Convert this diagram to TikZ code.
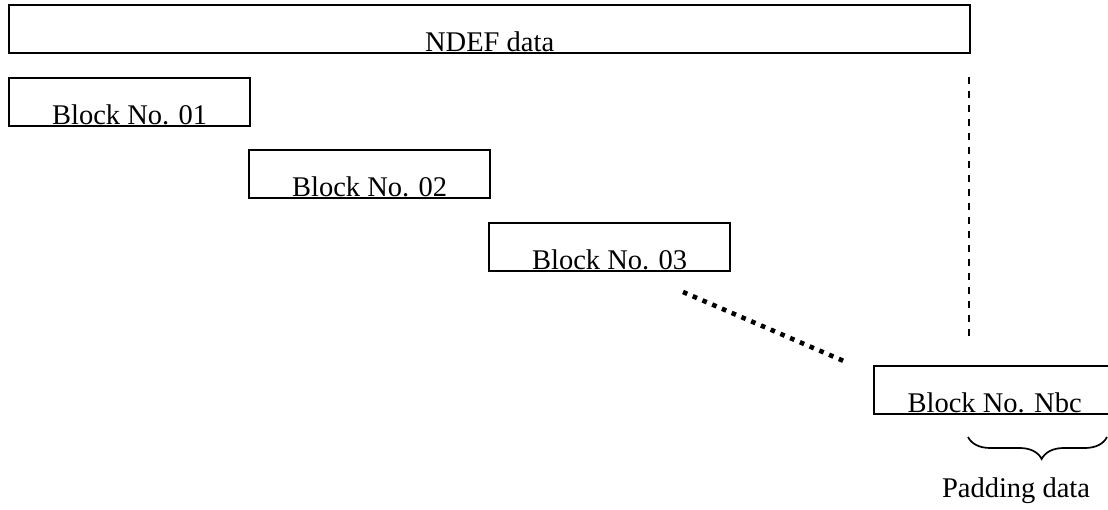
\documentclass[tikz,border=0pt]{standalone}
\usepackage{fontspec}
\setmainfont{Liberation Serif}
\usetikzlibrary{positioning,decorations.pathreplacing}

\tikzset{
  blockbox/.style={draw,line width=2.3pt,inner sep=0pt,minimum width=241pt,
    text height=46pt,text depth=2pt,anchor=north west},
}

\begin{document}
\begin{tikzpicture}[x=1pt,y=-1pt,font=\fontsize{28.5}{34}\selectfont]
  \clip (0,0) rectangle (1108,510);
  \node[blockbox,minimum width=961pt] (ndef) at (8,4) {NDEF data};
  \foreach \n/\x/\y in {01/8/77, 02/248/149, 03/488/222} {
    \node[blockbox] (blk\n) at (\x,\y) {Block No. \n};
  }
  \node[blockbox] (blknbc) at (873,365) {Block No. Nbc};
  % dashed marker below the end of the NDEF data
  \coordinate (dtop) at (969,77);
  \coordinate (dbot) at (969,336);
  \draw[line width=2.3pt,dash pattern=on 7pt off 7pt] (dtop) -- (dbot);
  % dotted gap between block 03 and the last block
  \coordinate (gapa) at (683,292);
  \coordinate (gapb) at (846,362);
  \draw[line width=4.6pt,dash pattern=on 4.6pt off 6pt] (gapa) -- (gapb);
  % padding brace
  \coordinate (pada) at (968,437);
  \coordinate (padb) at (1107,437);
  \draw[line width=1.7pt,decorate,decoration={brace,mirror,amplitude=22pt,aspect=0.53}] (pada) -- (padb);
  \node[anchor=base] (pad) at (1016,497) {Padding data};
\end{tikzpicture}
\end{document}
